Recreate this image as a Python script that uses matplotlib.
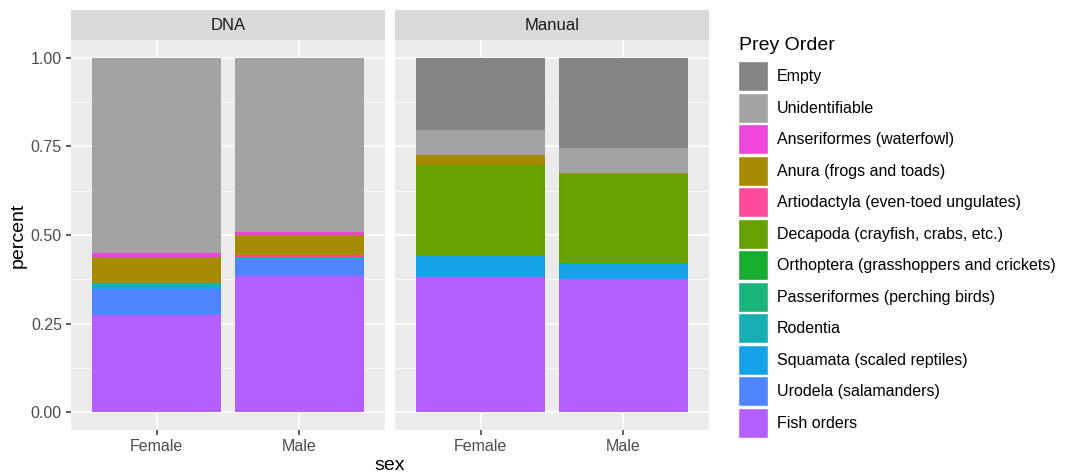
import matplotlib.pyplot as plt
import numpy as np
from matplotlib.patches import Patch

plt.rcParams["font.family"] = ["Liberation Sans", "DejaVu Sans"]

sexes = ["Female", "Male"]
methods = ["DNA", "Manual"]
prey_orders = [
    "Empty",
    "Unidentifiable",
    "Anseriformes (waterfowl)",
    "Anura (frogs and toads)",
    "Artiodactyla (even-toed ungulates)",
    "Decapoda (crayfish, crabs, etc.)",
    "Orthoptera (grasshoppers and crickets)",
    "Passeriformes (perching birds)",
    "Rodentia",
    "Squamata (scaled reptiles)",
    "Urodela (salamanders)",
    "Fish orders",
]
prey_colors = [
    "#858585", "#a3a3a3", "#ee45dd", "#a68b00", "#ff4a9b", "#68a000",
    "#17ae2e", "#1ab57a", "#16b0b4", "#14a3e8", "#4f86ff", "#b45fff",
]

# proportions per prey order (same order as prey_orders)
dna_female = [0.0, 0.550, 0.013, 0.071, 0.0, 0.0, 0.0, 0.0, 0.012, 0.007, 0.074, 0.273]
dna_male = [0.0, 0.491, 0.010, 0.056, 0.004, 0.0, 0.0, 0.0, 0.008, 0.0, 0.047, 0.384]
manual_female = [0.203, 0.071, 0.0, 0.028, 0.0, 0.257, 0.0, 0.0, 0.0, 0.059, 0.0, 0.382]
manual_male = [0.255, 0.071, 0.0, 0.003, 0.0, 0.251, 0.0, 0.0, 0.0, 0.044, 0.0, 0.376]

panels = {
    "DNA": [dna_female, dna_male],
    "Manual": [manual_female, manual_male],
}

W, H = 1066, 475
fig = plt.figure(figsize=(W / 100, H / 100), dpi=100)

def px_axes(x0, y0, x1, y1):
    return fig.add_axes([x0 / W, 1 - y1 / H, (x1 - x0) / W, (y1 - y0) / H])

panel_x = [(71, 385), (395, 709)]
for i, method in enumerate(methods):
    x0, x1 = panel_x[i]
    ax = px_axes(x0, 40, x1, 430)
    ax.set_facecolor("#ebebeb")
    x = np.arange(1, len(sexes) + 1)
    values = np.array(panels[method])
    bottom = np.zeros(len(sexes))
    # stack from the bottom: last prey order sits lowest
    for k in range(len(prey_orders) - 1, -1, -1):
        ax.bar(x, values[:, k], width=0.9, bottom=bottom,
               color=prey_colors[k], linewidth=0, zorder=3)
        bottom += values[:, k]
    ax.set_xlim(0.4, 2.6)
    ax.set_ylim(-0.05, 1.05)
    ax.set_xticks(x)
    ax.set_xticklabels(sexes)
    ax.set_yticks([0, 0.25, 0.5, 0.75, 1.0])
    ax.set_yticks([0.125, 0.375, 0.625, 0.875], minor=True)
    if i == 0:
        ax.set_yticklabels(["0.00", "0.25", "0.50", "0.75", "1.00"])
    else:
        ax.set_yticklabels([])
    ax.tick_params(axis="both", which="major", colors="#333333", length=3.5,
                   width=1.1, labelsize=11.5, labelcolor="#4d4d4d", pad=3)
    if i == 1:
        ax.tick_params(axis="y", which="major", length=0)
    ax.tick_params(axis="y", which="minor", length=0)
    ax.grid(True, which="major", color="white", linewidth=1.2, zorder=0)
    ax.grid(True, which="minor", axis="y", color="white", linewidth=0.6, zorder=0)
    ax.set_axisbelow(True)
    for s in ax.spines.values():
        s.set_visible(False)

    # facet strip
    strip = px_axes(x0, 10, x1, 40)
    strip.set_facecolor("#d9d9d9")
    strip.set_xticks([])
    strip.set_yticks([])
    for s in strip.spines.values():
        s.set_visible(False)
    strip.text(0.5, 0.5, method, ha="center", va="center",
               fontsize=12, color="#1a1a1a", transform=strip.transAxes)

fig.text(18 / W, 1 - 235 / H, "percent", rotation=90, ha="center",
         va="center", fontsize=14)
fig.text(390 / W, 1 - 466 / H, "sex", ha="center", va="center", fontsize=14)

# legend: title as its own text, keys below it
fig.text(739 / W, 1 - 45 / H, "Prey Order", ha="left", va="center", fontsize=14)
handles = [Patch(facecolor=c, edgecolor="white", linewidth=1) for c in prey_colors]
leg = fig.legend(handles, prey_orders, loc="upper left",
                 bbox_to_anchor=(738 / W, 1 - 61 / H), frameon=False,
                 fontsize=11.5, handlelength=1.85, handleheight=2.55,
                 labelspacing=0.07, handletextpad=0.6, borderpad=0,
                 borderaxespad=0)

fig.savefig("out.png", dpi=100)
